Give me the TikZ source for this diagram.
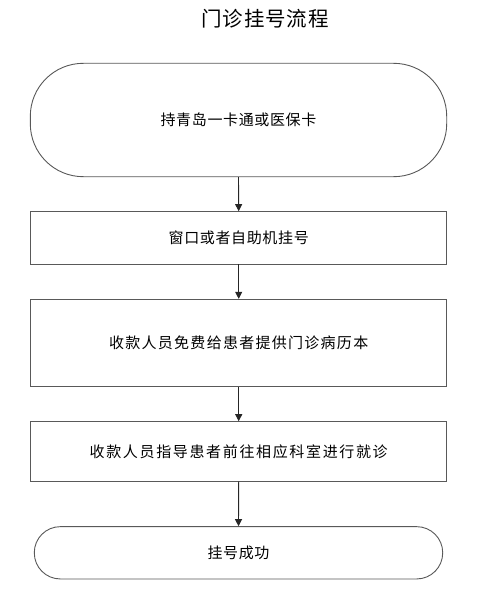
\documentclass[tikz,border=0pt]{standalone}
\usepackage{fontspec}
\setmainfont{Noto Sans CJK SC}
\newfontfamily\cjkA[LetterSpace=4.3]{Noto Sans CJK SC}
\newfontfamily\cjkB[LetterSpace=8.5]{Noto Sans CJK SC}
\newfontfamily\cjkC[LetterSpace=11]{Noto Sans CJK SC}
\newfontfamily\cjkT[LetterSpace=4.8]{Noto Sans CJK SC}
\usetikzlibrary{arrows.meta}
\begin{document}
\begin{tikzpicture}[x=1pt,y=1pt,
  box/.style={draw=black!65, line width=0.9pt, fill=white, inner sep=0pt, font=\cjkA\fontsize{15}{15}\selectfont},
  flow/.style={draw=black!85, line width=0.9pt, -{Triangle[length=7pt,width=7pt]}}]
\useasboundingbox (0,0) rectangle (490,-599);
\node[font=\cjkT\fontsize{20.5}{20.5}\selectfont] (title) at (265,-19) {门诊挂号流程};
\node[box, rounded corners=53pt, minimum width=416.4pt, minimum height=113.4pt] (n1) at (238.5,-120) {持青岛一卡通或医保卡};
\node[box, minimum width=416pt, minimum height=52.3pt] (n2) at (238.7,-237.8) {窗口或者自助机挂号};
\node[box, minimum width=416pt, minimum height=87.4pt, font=\cjkB\fontsize{15}{15}\selectfont] (n3) at (238.7,-343) {收款人员免费给患者提供门诊病历本};
\node[box, minimum width=416pt, minimum height=59.3pt, font=\cjkC\fontsize{15}{15}\selectfont] (n4) at (238.7,-451.3) {收款人员指导患者前往相应科室进行就诊};
\node[box, rounded corners=26pt, minimum width=408.4pt, minimum height=52.3pt] (n5) at (238.5,-552.8) {挂号成功};
\draw[flow] (n1.south) -- (n2.north);
\draw[flow] (n2.south) -- (n3.north);
\draw[flow] (n3.south) -- (n4.north);
\draw[flow] (n4.south) -- (n5.north);
\end{tikzpicture}
\end{document}
